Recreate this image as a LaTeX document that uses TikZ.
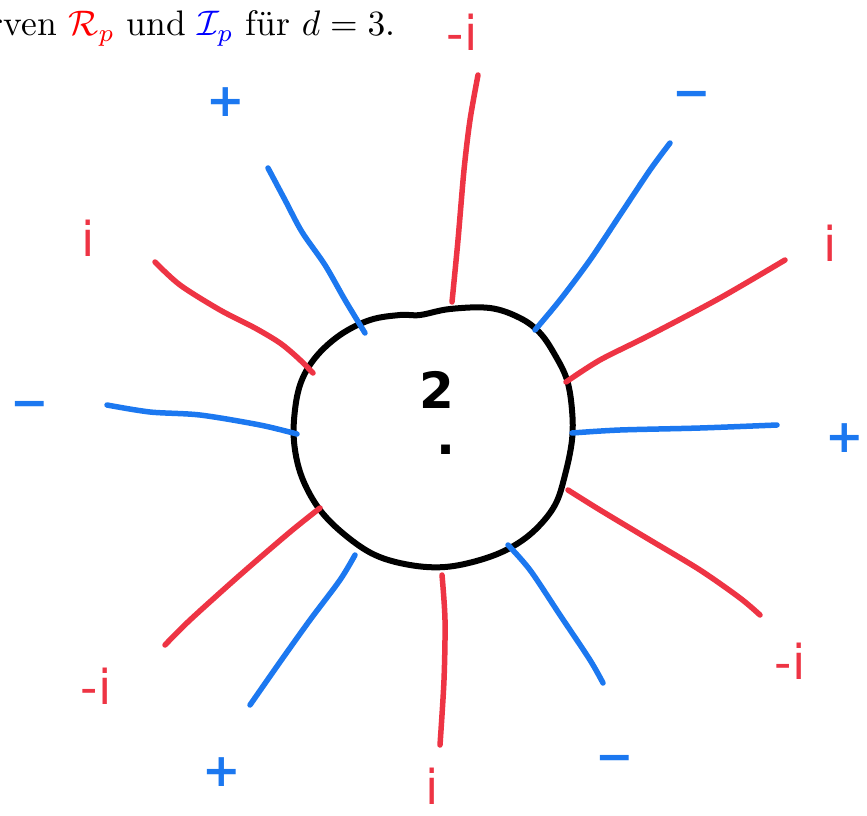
\documentclass[tikz,border=0pt]{standalone}
\usepackage{fontspec}
\newfontfamily\hand{DejaVu Sans}
\definecolor{pred}{RGB}{238,52,68}
\definecolor{pblue}{RGB}{28,120,240}
\begin{document}
\begin{tikzpicture}[x=1pt,y=-1pt,
  redray/.style={draw=pred,line width=5.5pt,line cap=round,line join=round},
  blueray/.style={draw=pblue,line width=5.5pt,line cap=round,line join=round},
  rim/.style={draw=black,line width=6pt,line cap=round,line join=round},
  rlab/.style={text=pred,font=\hand\fontsize{48}{54}\selectfont,inner sep=0pt},
  blab/.style={text=pblue,font=\hand\bfseries\fontsize{46}{52}\selectfont,inner sep=0pt},
  klab/.style={text=black,font=\hand\bfseries\fontsize{50}{56}\selectfont,inner sep=0pt}]
\useasboundingbox (0,0) rectangle (867,816);
\fill[white] (0,0) rectangle (867,816);
% caption
\node[anchor=base east,inner sep=0pt,scale=3.55,font=\fontsize{10}{12}\selectfont] (cap) at (396,36)
  {Kurven $\color{red}\mathcal{R}_p$ und $\color{blue}\mathcal{I}_p$ für $d=3$.};
% circle
\draw[rim] plot[smooth cycle,tension=0.6] coordinates {
 (420,315) (450,309) (490,308) (520,318) (540,333) (555,355) (567,380) (572,410)
 (572,440) (565,475) (555,505) (535,530) (510,548) (480,560) (445,567) (410,565)
 (375,555) (345,535) (320,510) (303,480) (295,450) (294,420) (300,385) (315,358)
 (340,335) (370,320) (400,315)};
% red rays
\draw[redray] plot[smooth] coordinates {(452,302) (458,240) (464,170) (470,120) (478,75)};
\draw[redray] plot[smooth] coordinates {(566,382) (600,360) (650,335) (720,298) (785,260)};
\draw[redray] plot[smooth] coordinates {(568,490) (600,510) (650,540) (700,570) (740,598) (760,615)};
\draw[redray] plot[smooth] coordinates {(442,575) (445,620) (444,680) (440,745)};
\draw[redray] plot[smooth] coordinates {(320,508) (290,532) (240,575) (190,620) (165,645)};
\draw[redray] plot[smooth] coordinates {(313,373) (298,358) (280,343) (255,328) (220,310) (180,285) (155,262)};
% blue rays
\draw[blueray] plot[smooth] coordinates {(535,330) (560,300) (590,260) (620,215) (650,170) (670,143)};
\draw[blueray] plot[smooth] coordinates {(572,433) (620,430) (700,428) (777,425)};
\draw[blueray] plot[smooth] coordinates {(508,545) (530,570) (560,615) (590,660) (603,683)};
\draw[blueray] plot[smooth] coordinates {(355,555) (340,580) (310,620) (280,662) (250,705)};
\draw[blueray] plot[smooth] coordinates {(297,434) (260,425) (200,415) (150,412) (107,405)};
\draw[blueray] plot[smooth] coordinates {(365,333) (345,300) (325,265) (302,232) (285,200) (268,168)};
% labels
\node[rlab] (lt)  at (462,32)  {-i};
\node[blab] (ltl) at (226,102) {+};
\node[blab] (ltr) at (692,100) {−};
\node[rlab] (lul) at (88,238)  {i};
\node[rlab] (lur) at (830,243) {i};
\node[blab] (ll)  at (30,410)  {−};
\node[blab] (lr)  at (845,438) {+};
\node[rlab] (lll) at (96,686)  {-i};
\node[rlab] (llr) at (790,661) {-i};
\node[blab] (lbl) at (222,772) {+};
\node[rlab] (lb)  at (432,786) {i};
\node[blab] (lbr) at (615,764) {−};
\node[klab] (two) at (437,390) {2};
\node[klab] (dot) at (446,450) {.};
\end{tikzpicture}
\end{document}
